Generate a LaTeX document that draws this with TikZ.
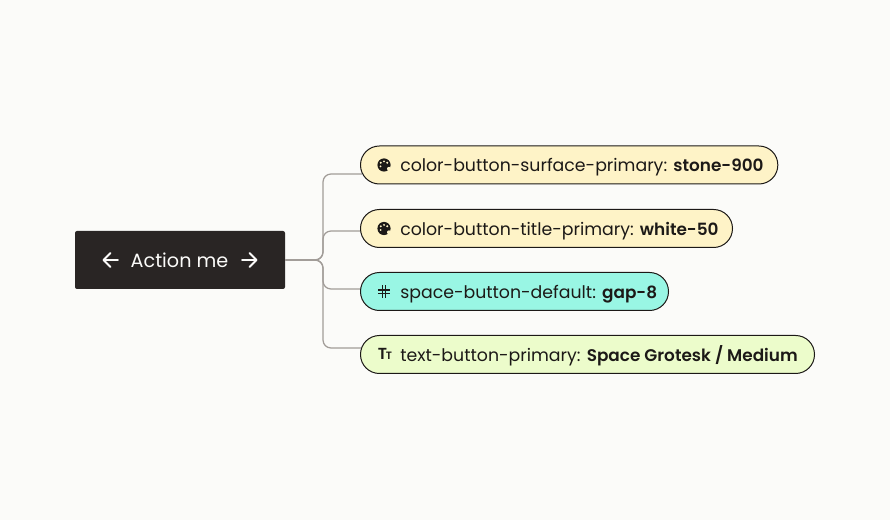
\documentclass[tikz,border=0pt]{standalone}
\usepackage{fontspec}
\setmainfont{Poppins}
\newfontfamily\strongface{Poppins SemiBold}
\definecolor{pagebg}{HTML}{FBFBF9}
\definecolor{stonedark}{HTML}{292524}
\definecolor{inkdark}{HTML}{1C1917}
\definecolor{linkgrey}{HTML}{A19C98}
\definecolor{creamfill}{HTML}{FEF3C7}
\definecolor{mintfill}{HTML}{99F6E4}
\definecolor{limefill}{HTML}{ECFCCB}
\newcommand{\tokenval}[1]{{\strongface\fontsize{12.65}{15}\selectfont #1}}
\tikzset{
	pill/.style={draw=inkdark, line width=0.75pt, rounded corners=14.2pt, minimum height=28.5pt, inner sep=0pt, anchor=west},
	pilltext/.style={font=\fontsize{13}{15}\selectfont, text=inkdark, anchor=base west, inner sep=0pt},
	link/.style={draw=linkgrey, line width=0.95pt, rounded corners=6pt},
	iconline/.style={draw=inkdark, line width=0.9pt},
	arrowline/.style={draw=pagebg, line width=1.4pt, line cap=round, line join=round},
	palette/.pic={
		\fill[inkdark] (0,0) circle[radius=6.6];
		\fill[pic actions] (-3.2,-2.2) circle[radius=1.1];
		\fill[pic actions] (0,-3.6) circle[radius=1.1];
		\fill[pic actions] (3.2,-2.2) circle[radius=1.1];
		\fill[pic actions] (-3.4,1.4) circle[radius=1];
		\fill[pic actions] (5,3.8) circle[radius=2];
	}
}
\begin{document}
\begin{tikzpicture}[x=0.75pt, y=-0.75pt]
	\useasboundingbox[fill=pagebg] (0,0) rectangle (890,520);

	\coordinate (trunk) at (323,260);
	\coordinate (tapA) at (362,174);
	\coordinate (tapB) at (362,231);
	\coordinate (tapC) at (362,289);
	\coordinate (tapD) at (362,348);

	\node[fill=stonedark, rounded corners=1.5pt, minimum width=157.5pt, minimum height=43.5pt, inner sep=0pt] (button) at (180,260) {};
	\node[text=pagebg, font=\fontsize{14.4}{16}\selectfont] (title) at (179.5,260) {Action me};
	\draw[arrowline] (103.5,260) -- (118,260) (110.5,253) -- (103.5,260) -- (110.5,267);
	\draw[arrowline] (242,260) -- (256.5,260) (249.5,253) -- (256.5,260) -- (249.5,267);

	\draw[link] (button.east) -- (trunk) |- (tapA);
	\draw[link] (button.east) -- (trunk) |- (tapB);
	\draw[link] (button.east) -- (trunk) |- (tapC);
	\draw[link] (button.east) -- (trunk) |- (tapD);

	\node[pill, fill=creamfill, minimum width=313pt] (pillA) at (360,165) {};
	\node[pill, fill=creamfill, minimum width=279pt] (pillB) at (360,228.5) {};
	\node[pill, fill=mintfill, minimum width=231pt] (pillC) at (360,291.5) {};
	\node[pill, fill=limefill, minimum width=340.5pt] (pillD) at (360,354.5) {};

	\pic[fill=creamfill] at (384,165) {palette};
	\pic[fill=creamfill] at (384,228.5) {palette};
	\draw[iconline] (382.5,285.5) -- (382.5,298) (385.5,285.5) -- (385.5,298) (378,290) -- (390,290) (378,293.5) -- (390,293.5);
	\node[text=inkdark, anchor=base west, inner sep=0pt, font=\strongface\fontsize{12}{14}\selectfont] (iconT) at (377.5,359.5) {T};
	\node[text=inkdark, anchor=base west, inner sep=0pt, font=\strongface\fontsize{8}{9}\selectfont] (icont) at (385.5,359.5) {T};

	\node[pilltext] (textA) at (400,172) {color-button-surface-primary: \tokenval{stone-900}};
	\node[pilltext] (textB) at (400,235.5) {color-button-title-primary: \tokenval{white-50}};
	\node[pilltext] (textC) at (400,298.5) {space-button-default: \tokenval{gap-8}};
	\node[pilltext] (textD) at (400,361.5) {text-button-primary: \tokenval{Space Grotesk / Medium}};
\end{tikzpicture}
\end{document}
